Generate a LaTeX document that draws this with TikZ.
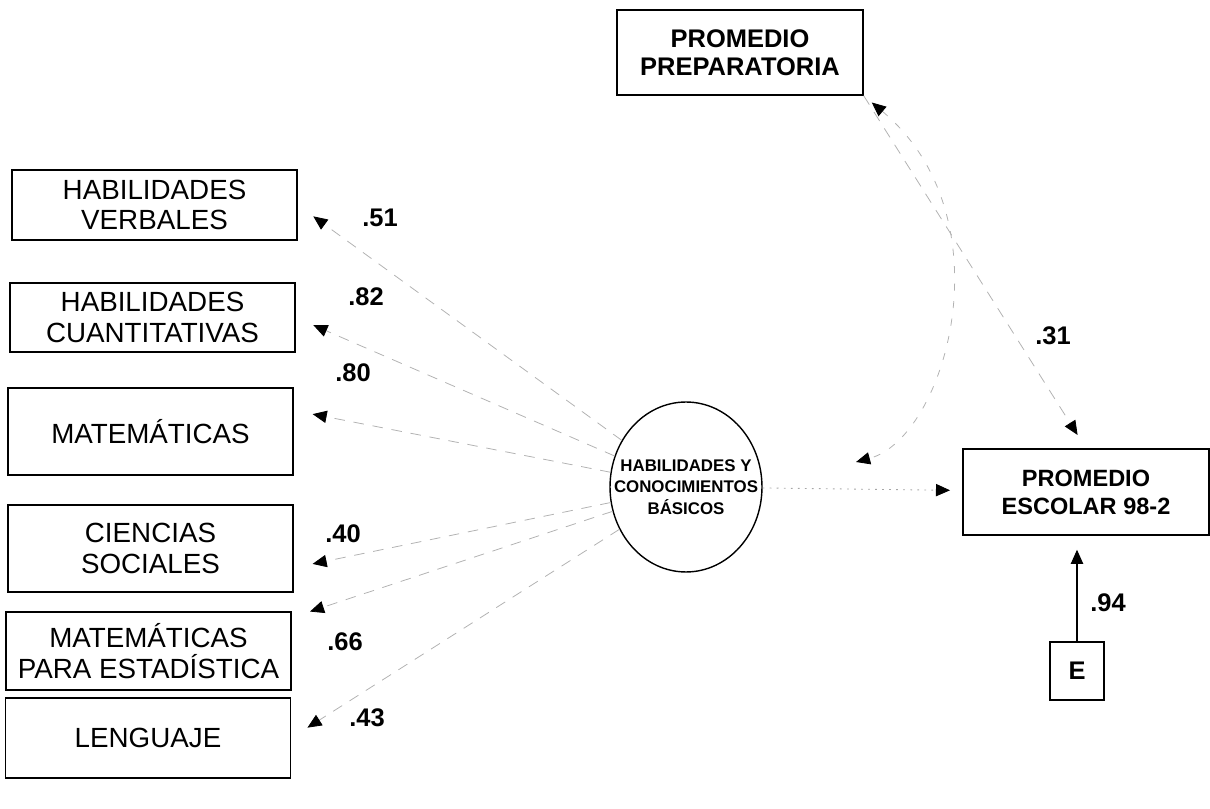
\documentclass[tikz,border=0pt]{standalone}
\usepackage{fontspec}
\setmainfont{Liberation Sans}
\usetikzlibrary{arrows.meta,shapes.geometric}

\begin{document}
\begin{tikzpicture}[x=0.02cm,y=0.02cm,
	ind/.style={draw,line width=0.8pt,minimum width=5.7cm,inner sep=0pt,align=center,font=\fontsize{15.8}{17.5}\selectfont},
	obs/.style={draw,line width=0.8pt,inner sep=0pt,align=center,font=\bfseries\fontsize{14.5}{16}\selectfont},
	lat/.style={draw,ellipse,line width=0.8pt,inner sep=0pt,minimum width=3.04cm,minimum height=3.4cm},
	coef/.style={font=\bfseries\fontsize{14.5}{16}\selectfont},
	load/.style={-{Triangle[length=8pt,width=7pt,color=black]},draw=black!30,dash pattern=on 6pt off 5pt,line width=0.45pt,shorten >=11pt},
	reg/.style={-{Triangle[length=8pt,width=7pt,color=black]},draw=black!35,dash pattern=on 1pt off 3pt,line width=0.5pt,shorten >=7pt},
	corr/.style={{Triangle[length=8pt,width=7pt,color=black]}-{Triangle[length=8pt,width=7pt,color=black]},draw=black!30,dash pattern=on 4pt off 6pt,line width=0.45pt,shorten >=55pt,shorten <=6pt},
	res/.style={-{Triangle[length=8pt,width=7pt]},line width=0.6pt,shorten >=8pt}]
			\useasboundingbox (0,0) rectangle (1210,808);
			\node[ind,minimum height=1.4cm] (verb) at (154.5,603) {HABILIDADES\\VERBALES};
			\node[ind,minimum height=1.38cm] (cuant) at (152.5,490.5) {HABILIDADES\\CUANTITATIVAS};
			\node[ind,minimum height=1.74cm] (mate) at (150.5,376.5) {MATEMÁTICAS};
			\node[ind,minimum height=1.74cm] (cien) at (150.5,259.5) {CIENCIAS\\SOCIALES};
			\node[ind,minimum height=1.56cm] (mest) at (148.5,157) {MATEMÁTICAS\\PARA ESTADÍSTICA};
			\node[ind,minimum height=1.6cm] (leng) at (148,70) {LENGUAJE};
			\node[obs,minimum width=4.92cm,minimum height=1.7cm] (prep) at (740,755.5) {PROMEDIO\\PREPARATORIA};
			\node[lat] (lat) at (686,321) {};
			\node[align=center,font=\bfseries\fontsize{9.6}{12.2}\selectfont] (lattxt) at (lat) {HABILIDADES Y\\CONOCIMIENTOS\\BÁSICOS};
			\node[obs,minimum width=4.92cm,minimum height=1.72cm,font=\bfseries\fontsize{13.4}{16}\selectfont] (esc) at (1086,316) {PROMEDIO\\ESCOLAR 98-2};
			\node[obs,minimum width=1.08cm,minimum height=1.16cm] (err) at (1077,137) {E};
			\draw[load] (lat) -- (verb.east);
			\draw[load] (lat) -- (cuant.east);
			\draw[load] (lat) -- ([yshift=12pt]mate.east);
			\draw[load] (lat) -- ([yshift=-11pt]cien.east);
			\draw[load] (lat) -- ([yshift=19pt]mest.east);
			\draw[load] (lat) -- (leng.east);
			\draw[reg] (lat) -- (esc);
			\draw[load,shorten >=9pt] (prep.south east) -- (esc.north);
			\draw[corr] (prep.south east) to[out=-40,in=15,looseness=1.2] (lat.east);
			\draw[res] (err) -- (err |- esc.south);
			\node[coef] (c51) at (380,590) {.51};
			\node[coef] (c82) at (366,511) {.82};
			\node[coef] (c80) at (353,435) {.80};
			\node[coef] (c40) at (343,274) {.40};
			\node[coef] (c66) at (345,166) {.66};
			\node[coef] (c43) at (367,90) {.43};
			\node[coef] (c31) at (1053,472) {.31};
			\node[coef] (c94) at (1108,205) {.94};
		\end{tikzpicture}
\end{document}
